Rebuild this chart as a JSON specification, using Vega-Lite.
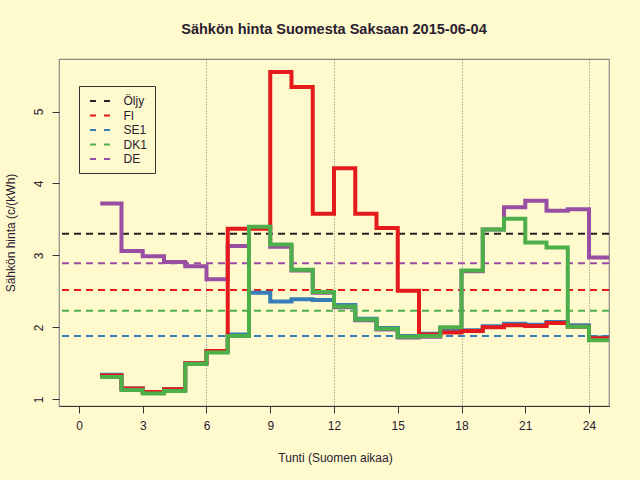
{
  "$schema": "https://vega.github.io/schema/vega-lite/v6.json",
  "width": 550,
  "height": 347,
  "autosize": {"type": "none"},
  "padding": {"left": 59, "top": 59, "right": 31, "bottom": 74},
  "background": "#FFFACD",
  "config": {
    "font": "Liberation Sans",
    "view": {"stroke": "#8a8a8a", "strokeWidth": 1.2},
    "axis": {"labelFont": "Liberation Sans", "titleFont": "Liberation Sans", "labelFontSize": 12, "titleFontSize": 12, "labelColor": "#2a2030", "titleColor": "#2a2030", "titleFontWeight": "normal", "tickColor": "#333333", "tickSize": 7, "tickWidth": 1}
  },
  "title": {"text": "Sähkön hinta Suomesta Saksaan 2015-06-04", "fontSize": 14.5, "fontWeight": "bold", "color": "#2a2030", "anchor": "middle", "baseline": "alphabetic", "offset": 11, "font": "Liberation Sans"},
  "data": {"values": [
    {"h": 1, "FI": 1.33, "SE1": 1.34, "DK1": 1.31, "DE": 3.72},
    {"h": 2, "FI": 1.15, "SE1": 1.15, "DK1": 1.13, "DE": 3.06},
    {"h": 3, "FI": 1.10, "SE1": 1.10, "DK1": 1.08, "DE": 2.99},
    {"h": 4, "FI": 1.14, "SE1": 1.14, "DK1": 1.115, "DE": 2.91},
    {"h": 5, "FI": 1.50, "SE1": 1.50, "DK1": 1.49, "DE": 2.85},
    {"h": 6, "FI": 1.67, "SE1": 1.67, "DK1": 1.65, "DE": 2.67},
    {"h": 7, "FI": 3.37, "SE1": 1.90, "DK1": 1.88, "DE": 3.13},
    {"h": 8, "FI": 3.37, "SE1": 2.48, "DK1": 3.40, "DE": 3.38},
    {"h": 9, "FI": 5.55, "SE1": 2.36, "DK1": 3.15, "DE": 3.12},
    {"h": 10, "FI": 5.34, "SE1": 2.39, "DK1": 2.80, "DE": 2.79},
    {"h": 11, "FI": 3.58, "SE1": 2.38, "DK1": 2.49, "DE": 2.48},
    {"h": 12, "FI": 4.21, "SE1": 2.31, "DK1": 2.29, "DE": 2.28},
    {"h": 13, "FI": 3.58, "SE1": 2.12, "DK1": 2.11, "DE": 2.10},
    {"h": 14, "FI": 3.38, "SE1": 1.99, "DK1": 1.98, "DE": 1.97},
    {"h": 15, "FI": 2.51, "SE1": 1.88, "DK1": 1.87, "DE": 1.86},
    {"h": 16, "FI": 1.90, "SE1": 1.91, "DK1": 1.88, "DE": 1.87},
    {"h": 17, "FI": 1.93, "SE1": 1.94, "DK1": 2.00, "DE": 1.99},
    {"h": 18, "FI": 1.95, "SE1": 1.96, "DK1": 2.79, "DE": 2.78},
    {"h": 19, "FI": 2.00, "SE1": 2.015, "DK1": 3.36, "DE": 3.36},
    {"h": 20, "FI": 2.03, "SE1": 2.05, "DK1": 3.51, "DE": 3.67},
    {"h": 21, "FI": 2.02, "SE1": 2.035, "DK1": 3.18, "DE": 3.76},
    {"h": 22, "FI": 2.06, "SE1": 2.075, "DK1": 3.11, "DE": 3.62},
    {"h": 23, "FI": 2.01, "SE1": 2.03, "DK1": 2.01, "DE": 3.64},
    {"h": 24, "FI": 1.85, "SE1": 1.86, "DK1": 1.82, "DE": 2.97},
    {"h": 25, "FI": 1.85, "SE1": 1.86, "DK1": 1.82, "DE": 2.97}
  ]},
  "layer": [
    {
      "data": {"values": [
        {"series": "Öljy", "mean": 3.30},
        {"series": "FI", "mean": 2.52},
        {"series": "SE1", "mean": 1.88},
        {"series": "DK1", "mean": 2.23},
        {"series": "DE", "mean": 2.89}
      ]},
      "mark": {"type": "rule", "strokeWidth": 2, "strokeDash": [7, 5]},
      "encoding": {
        "y": {"field": "mean", "type": "quantitative", "scale": {"domain": [0.907, 5.73], "nice": false, "zero": false}},
        "color": {"field": "series", "type": "nominal", "scale": {"domain": ["Öljy", "FI", "SE1", "DK1", "DE"], "range": ["#222222", "#E41A1C", "#377EB8", "#4DAF4A", "#984EA3"]},
          "legend": {"title": null, "orient": "none", "legendX": 20, "legendY": 27, "strokeColor": "#333333", "padding": 8, "symbolType": "M-0.67,0H2.67", "symbolSize": 144, "symbolStrokeWidth": 2, "symbolDash": [6, 8], "labelFontSize": 12, "labelFont": "Liberation Sans", "labelColor": "#2a2030", "labelOffset": 22.5, "rowPadding": 1.5}}
      }
    },
    {
      "mark": {"type": "line", "interpolate": "step-after", "color": "#984EA3", "strokeWidth": 4, "clip": true},
      "encoding": {
        "x": {"field": "h", "type": "quantitative", "scale": {"domain": [-0.94, 24.94], "nice": false, "zero": false},
          "axis": {"values": [0, 3, 6, 9, 12, 15, 18, 21, 24], "title": "Tunti (Suomen aikaa)", "domainColor": "#333333", "labelPadding": 7, "titleX": 276, "titleY": 55, "titleBaseline": "alphabetic", "titleAnchor": "middle",
            "grid": true, "gridColor": "#777777", "gridDash": [1, 2], "gridWidth": 1,
            "gridOpacity": {"condition": {"test": "datum.value % 6 === 0 && datum.value > 0", "value": 1}, "value": 0}}},
        "y": {"field": "DE", "type": "quantitative", "scale": {"domain": [0.907, 5.73], "nice": false, "zero": false},
          "axis": {"values": [1, 2, 3, 4, 5], "format": "d", "title": "Sähkön hinta (c/(kWh)", "domain": false, "grid": false, "labelAngle": -90, "labelAlign": "center", "labelBaseline": "bottom", "labelPadding": 7, "titleX": -42, "titleY": 173.5, "titleAngle": -90, "titleAlign": "center", "titleBaseline": "bottom"}}
      }
    },
    {
      "mark": {"type": "line", "interpolate": "step-after", "color": "#377EB8", "strokeWidth": 4, "clip": true},
      "encoding": {
        "x": {"field": "h", "type": "quantitative"},
        "y": {"field": "SE1", "type": "quantitative"}
      }
    },
    {
      "mark": {"type": "line", "interpolate": "step-after", "color": "#E41A1C", "strokeWidth": 4, "clip": true},
      "encoding": {
        "x": {"field": "h", "type": "quantitative"},
        "y": {"field": "FI", "type": "quantitative"}
      }
    },
    {
      "mark": {"type": "line", "interpolate": "step-after", "color": "#4DAF4A", "strokeWidth": 4, "clip": true},
      "encoding": {
        "x": {"field": "h", "type": "quantitative"},
        "y": {"field": "DK1", "type": "quantitative"}
      }
    }
  ]
}
